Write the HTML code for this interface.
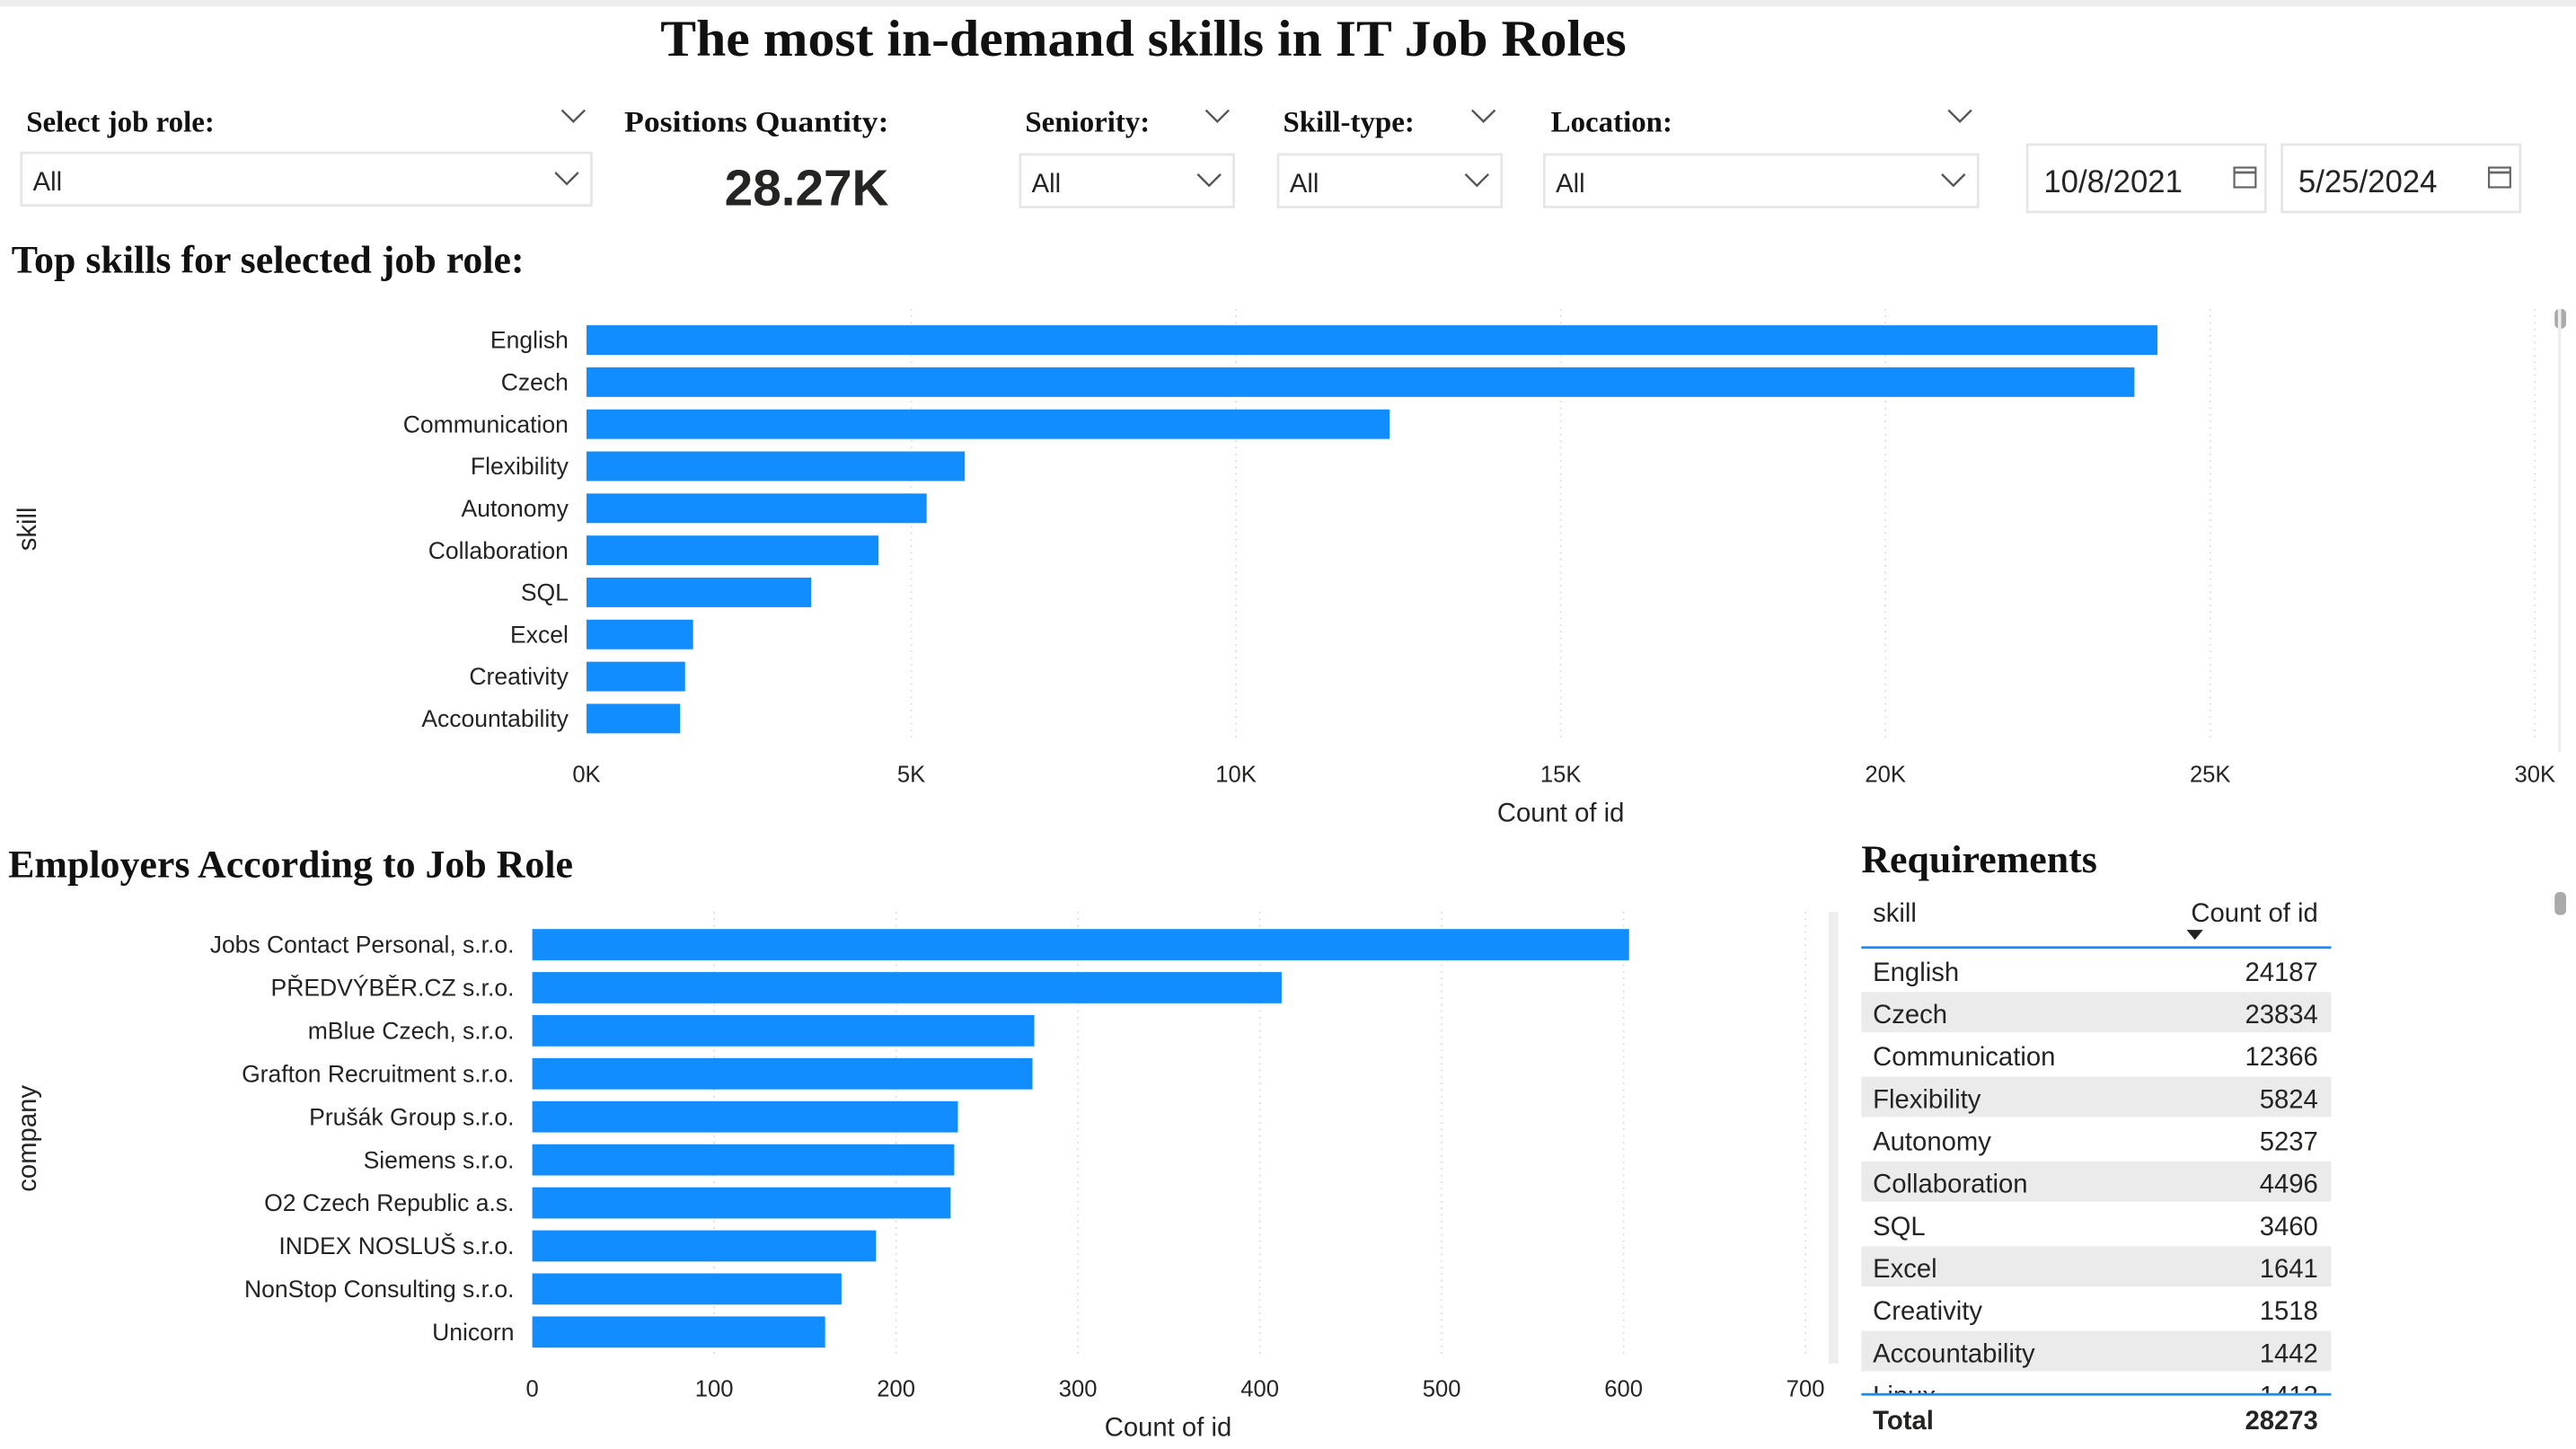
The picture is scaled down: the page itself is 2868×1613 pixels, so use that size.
<!DOCTYPE html>
<html><head><meta charset="utf-8"><style>
html,body{margin:0;padding:0;background:#fff;overflow:hidden}
svg{display:block}
.t{font-family:"Liberation Sans","DejaVu Sans",sans-serif;fill:#252423}
.s{font-family:"Liberation Serif",serif;font-weight:bold;fill:#111}
</style></head><body>
<svg id="root" width="2868" height="1613" viewBox="0 0 1568 882" preserveAspectRatio="none" xmlns="http://www.w3.org/2000/svg">
<rect width="1568" height="882" fill="#fff"/>
<rect width="1568" height="4" fill="#eee"/>
<text class="s" x="402" y="34" font-size="31" textLength="588" lengthAdjust="spacingAndGlyphs">The most in-demand skills in IT Job Roles</text>
<g id="filters"></g>
<text class="t" x="491" y="125" font-size="31" font-weight="bold" text-anchor="middle">28.27K</text>
<text class="s" x="7" y="166" font-size="24">Top skills for selected job role:</text>
<text class="s" x="5" y="534" font-size="24">Employers According to Job Role</text>
<text class="s" x="1133" y="531" font-size="24">Requirements</text>
<g id="chart1"></g>
<g id="chart2"></g>
<g id="table"></g>
<rect x="1555" y="188" width="7" height="12" rx="3" fill="#aaa"/>
<rect x="1557" y="188" width="2" height="270" fill="#eee"/>
<rect x="1555" y="543" width="7" height="14" rx="3" fill="#aaa"/>
<rect x="1113" y="555" width="6" height="275" fill="#eee"/>
</svg>
<script>
const skills=["English","Czech","Communication","Flexibility","Autonomy","Collaboration","SQL","Excel","Creativity","Accountability"];
const skillCounts=[24187,23834,12366,5824,5237,4496,3460,1641,1518,1442];
const skillTicks=[0,5000,10000,15000,20000,25000,30000];
const skillTickLabels=["0K","5K","10K","15K","20K","25K","30K"];
const companies=["Jobs Contact Personal, s.r.o.","PŘEDVÝBĚR.CZ s.r.o.","mBlue Czech, s.r.o.","Grafton Recruitment s.r.o.","Prušák Group s.r.o.","Siemens s.r.o.","O2 Czech Republic a.s.","INDEX NOSLUŠ s.r.o.","NonStop Consulting s.r.o.","Unicorn"];
const companyCounts=[603,412,276,275,234,232,230,189,170,161];
const companyTicks=[0,100,200,300,400,500,600,700];
const tableSkills=["English","Czech","Communication","Flexibility","Autonomy","Collaboration","SQL","Excel","Creativity","Accountability","Linux"];
const tableCounts=[24187,23834,12366,5824,5237,4496,3460,1641,1518,1442,1412];
const tableTotal=28273;

const NS="http://www.w3.org/2000/svg";
function mk(p,tag,a,txt){const e=document.createElementNS(NS,tag);for(const k in a)e.setAttribute(k,a[k]);if(txt!==undefined)e.textContent=txt;p.appendChild(e);return e;}
function chev(p,x,y){return mk(p,"path",{d:`M${x-7} ${y-4} L${x} ${y+3} L${x+7} ${y-4}`,fill:"none",stroke:"#555","stroke-width":"1.3"});}

const F=document.getElementById("filters");
const filt=[
 {name:"job-role",label:"Select job role:",lx:16,lc:349,bx:13,bw:347,by:93},
 {name:"seniority",label:"Seniority:",lx:624,lc:741,bx:621,bw:130,by:94},
 {name:"skill-type",label:"Skill-type:",lx:781,lc:903,bx:778,bw:136,by:94},
 {name:"location",label:"Location:",lx:944,lc:1193,bx:940,bw:264,by:94}];
filt.forEach(f=>{
 let t=mk(F,"text",{class:"s",x:f.lx,y:80,"font-size":"18"},f.label);
 
 
 let c=chev(F,f.lc,71);
 
 
 let g=mk(F,"g",{});
 
 
 mk(g,"rect",{x:f.bx,y:f.by,width:f.bw,height:32,fill:"#fff",stroke:"#e6e6e6","stroke-width":"1.5"});
 mk(g,"text",{class:"t",x:f.bx+7,y:f.by+23,"font-size":"16",fill:"#555"},"All");
 chev(g,f.bx+f.bw-15,f.by+16);
});
let pl=mk(F,"text",{class:"s",x:380,y:80,"font-size":"18",textLength:"161",lengthAdjust:"spacingAndGlyphs"},"Positions Quantity:");


[["start-date","10/8/2021",1234],["end-date","5/25/2024",1389]].forEach(d=>{
 let g=mk(F,"g",{});
 
 
 mk(g,"rect",{x:d[2],y:88,width:145,height:41,fill:"#fff",stroke:"#e6e6e6","stroke-width":"1.5"});
 mk(g,"text",{class:"t",x:d[2]+10,y:117,"font-size":"19"},d[1]);
 mk(g,"rect",{x:d[2]+126,y:102,width:13,height:12,fill:"none",stroke:"#666","stroke-width":"1.2"});
 mk(g,"line",{x1:d[2]+126,y1:105,x2:d[2]+139,y2:105,stroke:"#666","stroke-width":"1.5"});
});

const C1=document.getElementById("chart1");
const x1=v=>357+v/30000*1186;
const y1=i=>198+i*25.6;
skillTicks.forEach((v,i)=>{
 if(i>0)mk(C1,"line",{x1:x1(v),y1:188,x2:x1(v),y2:450,stroke:"#ddd","stroke-dasharray":"1,3"});
 let t=mk(C1,"text",{class:"t",x:x1(v),y:476,"font-size":"14","text-anchor":"middle",fill:"#605e5c"},skillTickLabels[i]);
 
 
});
skills.forEach((s,i)=>{
 let r=mk(C1,"rect",{x:357,y:y1(i),width:x1(skillCounts[i])-357,height:18,fill:"#118dff"});
 
 
 let t=mk(C1,"text",{class:"t",x:346,y:y1(i)+14,"font-size":"14.5","text-anchor":"end",fill:"#605e5c"},s);
 
 
});
let a1=mk(C1,"text",{class:"t",x:950,y:500,"font-size":"16","text-anchor":"middle"},"Count of id");


let b1=mk(C1,"text",{class:"t",x:0,y:0,"font-size":"16","text-anchor":"middle",transform:"translate(22,322) rotate(-90)"},"skill");



const C2=document.getElementById("chart2");
const x2=v=>324+v/700*775;
const y2=i=>565.5+i*26.2;
companyTicks.forEach((v,i)=>{
 if(i>0)mk(C2,"line",{x1:x2(v),y1:555,x2:x2(v),y2:825,stroke:"#ddd","stroke-dasharray":"1,3"});
 let t=mk(C2,"text",{class:"t",x:x2(v),y:850,"font-size":"14","text-anchor":"middle",fill:"#605e5c"},String(v));
 
 
});
companies.forEach((s,i)=>{
 let r=mk(C2,"rect",{x:324,y:y2(i),width:x2(companyCounts[i])-324,height:19,fill:"#118dff"});
 
 
 let t=mk(C2,"text",{class:"t",x:313,y:y2(i)+14.5,"font-size":"14.5","text-anchor":"end",fill:"#605e5c"},s);
 
 
});
let a2=mk(C2,"text",{class:"t",x:711,y:874,"font-size":"16","text-anchor":"middle"},"Count of id");


let b2=mk(C2,"text",{class:"t",x:0,y:0,"font-size":"16","text-anchor":"middle",transform:"translate(22,693) rotate(-90)"},"company");



const T=document.getElementById("table");
let h1=mk(T,"text",{class:"t",x:1140,y:561,"font-size":"16"},"skill");


let h2=mk(T,"text",{class:"t",x:1411,y:561,"font-size":"16","text-anchor":"end"},"Count of id");


mk(T,"path",{d:"M1331 566 L1341 566 L1336 572 Z",fill:"#222"});
mk(T,"rect",{x:1133,y:576,width:286,height:1.5,fill:"#118dff"});
const clipId="tclip";
const defs=mk(T,"defs",{});const cp=mk(defs,"clipPath",{id:clipId});mk(cp,"rect",{x:1133,y:577,width:286,height:271});
const body=mk(T,"g",{"clip-path":"url(#"+clipId+")"});
tableSkills.forEach((s,i)=>{
 const y=578+i*25.8;
 let g=mk(body,"g",{});
 
 
 if(i%2==1)mk(g,"rect",{x:1133,y:y,width:286,height:24.5,fill:"#ebebeb"});
 mk(g,"text",{class:"t",x:1140,y:y+19,"font-size":"16"},s);
 mk(g,"text",{class:"t",x:1411,y:y+19,"font-size":"16","text-anchor":"end"},String(tableCounts[i]));
});
mk(T,"rect",{x:1133,y:848,width:286,height:1.5,fill:"#118dff"});
let tt=mk(T,"text",{class:"t",x:1140,y:870,"font-size":"16","font-weight":"bold"},"Total");


let tv=mk(T,"text",{class:"t",x:1411,y:870,"font-size":"16","font-weight":"bold","text-anchor":"end"},String(tableTotal));


</script>
</body></html>
